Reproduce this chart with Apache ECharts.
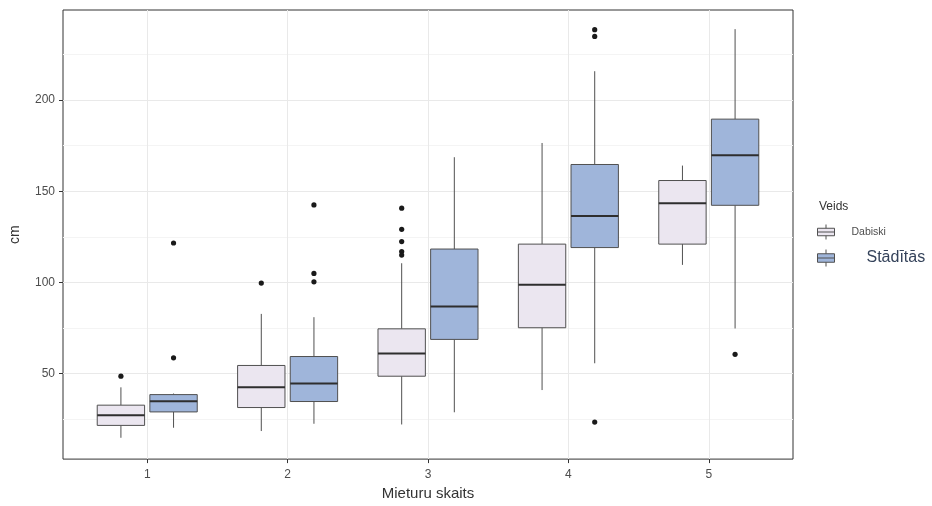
<!DOCTYPE html>
<html>
<head>
<meta charset="utf-8">
<script src="https://cdn.jsdelivr.net/npm/echarts@6/dist/echarts.min.js"></script>
<style>
  html, body { margin: 0; padding: 0; background: #fff; }
  #chart { width: 932px; height: 506px; }
</style>
</head>
<body>
<div id="chart"></div>
<script>
// ---- data ----
const categories = [1, 2, 3, 4, 5];
const xTickLabels = [1, 2, 3, 4, 5];
const yTickValues = [50, 100, 150, 200];
const groupNames = ['Dabiski', 'Stādītās'];
// [min, Q1, median, Q3, max] per category
const dabiskiStats = [
  [14.7, 21.5, 27.1, 32.6, 42.4],
  [18.4, 31.3, 42.5, 54.4, 82.7],
  [22.0, 48.5, 60.9, 74.5, 110.5],
  [40.9, 75.1, 98.7, 121.0, 176.5],
  [109.6, 121.0, 143.4, 155.9, 164.1]
];
const staditasStats = [
  [20.2, 28.9, 34.7, 38.4, 39.0],
  [22.4, 34.6, 44.5, 59.3, 80.9],
  [28.7, 68.7, 86.7, 118.3, 168.7],
  [55.6, 119.1, 136.5, 164.7, 215.9],
  [74.7, 142.3, 169.8, 189.6, 239.0]
];
// [category, value]
const dabiskiOutliers = [
  [1, 48.5], [2, 99.6], [3, 140.7], [3, 129.1], [3, 122.4], [3, 116.9], [3, 115.0]
];
const staditasOutliers = [
  [1, 121.6], [1, 58.6], [2, 142.5], [2, 104.9], [2, 100.3],
  [4, 238.7], [4, 235.0], [4, 23.3], [5, 60.5]
];

// ---- styles ----
const DODGE = 0.1875;
const BOXW = 0.3375;
const fills = ['#ebe6f0', '#9fb5da'];
const boxStroke = '#505050';
const medianStroke = '#2e2e2e';
const FONT = 'Liberation Sans';

function boxSeries(name, stats, side, fill) {
  return {
    type: 'custom',
    name: name,
    itemStyle: { color: fill, borderColor: boxStroke, borderWidth: 1 },
    data: categories.map((c, i) => [c].concat(stats[i])),
    encode: { x: 0, y: [1, 2, 3, 4, 5] },
    z: 3,
    renderItem: function (params, api) {
      const x = api.value(0);
      const band = api.size([1, 0])[0];
      const off = side * band * DODGE;
      const w = band * BOXW;
      const pMin = api.coord([x, api.value(1)]);
      const pQ1 = api.coord([x, api.value(2)]);
      const pMed = api.coord([x, api.value(3)]);
      const pQ3 = api.coord([x, api.value(4)]);
      const pMax = api.coord([x, api.value(5)]);
      const cx = pMin[0] + off;
      return {
        type: 'group',
        children: [
          { type: 'line', shape: { x1: cx, y1: pMin[1], x2: cx, y2: pQ1[1] },
            style: { stroke: boxStroke, lineWidth: 1 } },
          { type: 'line', shape: { x1: cx, y1: pQ3[1], x2: cx, y2: pMax[1] },
            style: { stroke: boxStroke, lineWidth: 1 } },
          { type: 'rect', shape: { x: cx - w / 2, y: pQ3[1], width: w, height: pQ1[1] - pQ3[1] },
            style: { fill: fill, stroke: boxStroke, lineWidth: 1 } },
          { type: 'line', shape: { x1: cx - w / 2, y1: pMed[1], x2: cx + w / 2, y2: pMed[1] },
            style: { stroke: medianStroke, lineWidth: 2 } }
        ]
      };
    }
  };
}

function outlierSeries(name, pts, side) {
  return {
    type: 'custom',
    name: name,
    data: pts,
    encode: { x: 0, y: 1 },
    z: 4,
    renderItem: function (params, api) {
      const band = api.size([1, 0])[0];
      const p = api.coord([api.value(0), api.value(1)]);
      return {
        type: 'circle',
        shape: { cx: p[0] + side * band * DODGE, cy: p[1], r: 2.6 },
        style: { fill: '#1a1a1a' }
      };
    }
  };
}

const legendIcon = 'path://M8,0L8,4M0,4L16,4L16,12L0,12ZM0,8L16,8M8,12L8,16';

const chart = echarts.init(document.getElementById('chart'));
chart.setOption({
  animation: false,
  backgroundColor: '#ffffff',
  textStyle: { fontFamily: FONT },
  title: {
    text: 'Veids',
    left: 819, top: 201, padding: 0,
    textStyle: { fontSize: 12, fontWeight: 'normal', color: '#333', fontFamily: FONT }
  },
  legend: [
    {
      left: 817, top: 224, padding: 0, itemWidth: 17, itemHeight: 15,
      selectedMode: false, symbolKeepAspect: false,
      data: [{
        name: groupNames[0], icon: legendIcon,
        itemStyle: { color: fills[0], borderColor: boxStroke, borderWidth: 1 },
        textStyle: { fontSize: 10.5, color: '#4d4d4d', padding: [0, 0, 0, 12], fontFamily: FONT }
      }]
    },
    {
      left: 817, top: 249, padding: 0, itemWidth: 17, itemHeight: 17,
      selectedMode: false, symbolKeepAspect: false,
      data: [{
        name: groupNames[1], icon: legendIcon,
        itemStyle: { color: fills[1], borderColor: boxStroke, borderWidth: 1 },
        textStyle: { fontSize: 16, color: '#34425a', padding: [0, 0, 0, 27], fontFamily: FONT }
      }]
    }
  ],
  grid: {
    left: 62, top: 10, right: 139, bottom: 44,
    show: true, borderColor: '#333', borderWidth: 1, backgroundColor: '#fff'
  },
  xAxis: {
    type: 'value', min: 0.4, max: 5.6,
    name: 'Mieturu skaits', nameLocation: 'middle', nameGap: 25,
    nameTextStyle: { fontSize: 15, color: '#333', fontFamily: FONT },
    axisLine: { show: false },
    axisTick: { show: true, length: 4, lineStyle: { color: '#333' }, customValues: xTickLabels },
    axisLabel: { customValues: xTickLabels, fontSize: 12, color: '#4d4d4d', margin: 10, fontFamily: FONT },
    splitLine: { show: true, lineStyle: { color: '#e9e9e9', width: 1 } }
  },
  yAxis: {
    type: 'value', min: 3, max: 249.5,
    name: 'cm', nameLocation: 'middle', nameGap: 41, nameRotate: 90,
    nameTextStyle: { fontSize: 14, color: '#333', fontFamily: FONT },
    axisLine: { show: false },
    axisTick: { show: true, length: 4, lineStyle: { color: '#333' }, customValues: yTickValues },
    axisLabel: { customValues: yTickValues, fontSize: 12, color: '#4d4d4d', margin: 8, fontFamily: FONT },
    splitLine: { show: true, lineStyle: { color: '#e9e9e9', width: 1 } },
    minorTick: { show: false, splitNumber: 2 },
    minorSplitLine: { show: true, lineStyle: { color: '#f4f4f4', width: 1 } }
  },
  series: [
    boxSeries(groupNames[0], dabiskiStats, -1, fills[0]),
    boxSeries(groupNames[1], staditasStats, 1, fills[1]),
    outlierSeries('Dabiski outliers', dabiskiOutliers, -1),
    outlierSeries('Stādītās outliers', staditasOutliers, 1)
  ]
});
</script>
</body>
</html>
